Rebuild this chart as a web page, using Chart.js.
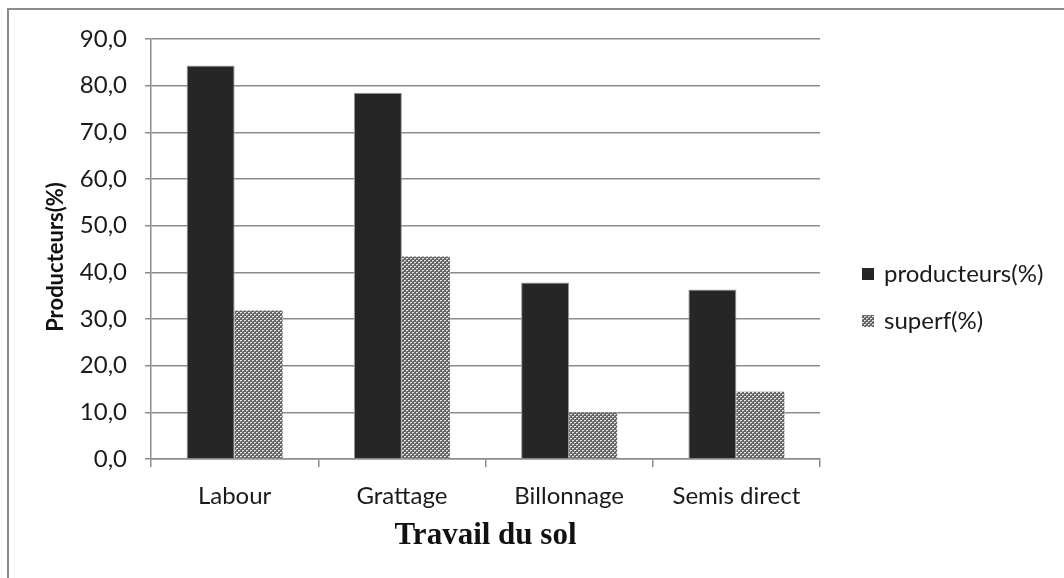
<!DOCTYPE html>
<html>
<head>
<meta charset="utf-8">
<script src="https://cdn.jsdelivr.net/npm/chart.js@4.4.1/dist/chart.umd.min.js"></script>
<style>
html,body{margin:0;padding:0;background:#fff;}
#wrap{position:relative;width:1064px;height:578px;}
</style>
</head>
<body>
<div id="wrap"><canvas id="c" width="1064" height="578"></canvas></div>
<script>
const categories = ["Labour", "Grattage", "Billonnage", "Semis direct"];
const producteurs = [84.3, 78.5, 37.8, 36.3];
const superf = [31.8, 43.4, 9.9, 14.4];
const seriesNames = ["producteurs(%)", "superf(%)"];
const yTicks = [0, 10, 20, 30, 40, 50, 60, 70, 80, 90];
const yTitle = "Producteurs(%)";
const xTitle = "Travail du sol";

function makePattern() {
  const t = document.createElement('canvas');
  t.width = 4; t.height = 4;
  const g = t.getContext('2d');
  g.fillStyle = '#646464';
  g.fillRect(0, 0, 4, 4);
  g.fillStyle = '#e6e6e6';
  g.fillRect(0, 0, 2, 1);
  g.fillRect(2, 2, 2, 1);
  g.fillStyle = '#9c9c9c';
  g.fillRect(0, 1, 1, 1);
  g.fillRect(2, 3, 1, 1);
  return document.getElementById('c').getContext('2d').createPattern(t, 'repeat');
}
const pat = makePattern();
const fills = ['#262626', pat];

const framePlugin = {
  id: 'frame',
  beforeDraw(chart) {
    const ctx = chart.ctx;
    ctx.save();
    ctx.fillStyle = '#fff';
    ctx.fillRect(0, 0, chart.width, chart.height);
    ctx.strokeStyle = '#8c8c8c';
    ctx.lineWidth = 2;
    ctx.beginPath();
    ctx.moveTo(8, chart.height);
    ctx.lineTo(8, 9);
    ctx.lineTo(chart.width, 9);
    ctx.stroke();
    ctx.restore();
  }
};

const legendPlugin = {
  id: 'sideLegend',
  afterDraw(chart) {
    const ctx = chart.ctx;
    ctx.save();
    ctx.font = '24px Lato';
    ctx.textBaseline = 'middle';
    chart.data.datasets.forEach((ds, i) => {
      const y = 274 + i * 47;
      ctx.fillStyle = ds.backgroundColor;
      ctx.fillRect(862, y - 6, 12, 12);
      ctx.fillStyle = '#1a1a1a';
      ctx.fillText(ds.label, 884, y);
    });
    // y axis title, slightly below the plot centre as in the original
    const a = chart.chartArea;
    ctx.translate(56, (a.top + a.bottom) / 2 + 8);
    ctx.rotate(-Math.PI / 2);
    ctx.textAlign = 'center';
    ctx.font = 'bold 22px Lato';
    ctx.fillStyle = '#111';
    ctx.fillText(yTitle, 0, 0);
    ctx.restore();
  }
};

new Chart(document.getElementById('c'), {
  type: 'bar',
  data: {
    labels: categories,
    datasets: [
      { label: seriesNames[0], data: producteurs, backgroundColor: fills[0], borderColor: '#9a9a9a', borderWidth: 1 },
      { label: seriesNames[1], data: superf, backgroundColor: fills[1], borderWidth: 0 }
    ]
  },
  options: {
    responsive: false,
    animation: false,
    devicePixelRatio: 1,
    layout: { padding: { top: 39, right: 244, left: 0, bottom: 0 } },
    plugins: { legend: { display: false }, tooltip: { enabled: false } },
    datasets: { bar: { categoryPercentage: 0.574, barPercentage: 1 } },
    scales: {
      x: {
        afterFit(s) { s.height = 119; },
        grid: { display: true, offset: true, drawOnChartArea: false, drawTicks: true, tickLength: 8, color: '#8c8c8c', lineWidth: 1.5 },
        border: { display: true, color: '#8c8c8c', width: 1.5 },
        ticks: { color: '#1a1a1a', font: { family: 'Lato', size: 24 }, padding: 15, maxRotation: 0 },
        title: { display: true, text: xTitle, color: '#111', font: { family: 'Liberation Serif', size: 31, weight: 'bold' }, padding: { top: 0, bottom: 23 } }
      },
      y: {
        min: 0, max: 90,
        afterFit(s) { s.width = 151; },
        afterBuildTicks(s) { s.ticks = yTicks.map(v => ({ value: v })); },
        grid: { color: '#8c8c8c', lineWidth: 1.5, tickLength: 6, drawTicks: true },
        border: { display: true, color: '#8c8c8c', width: 1.5 },
        ticks: { color: '#1a1a1a', font: { family: 'Lato', size: 24 }, padding: 18,
          callback: v => v.toFixed(1).replace('.', ',') },
        title: { display: false }
      }
    }
  },
  plugins: [framePlugin, legendPlugin]
});
</script>
</body>
</html>
